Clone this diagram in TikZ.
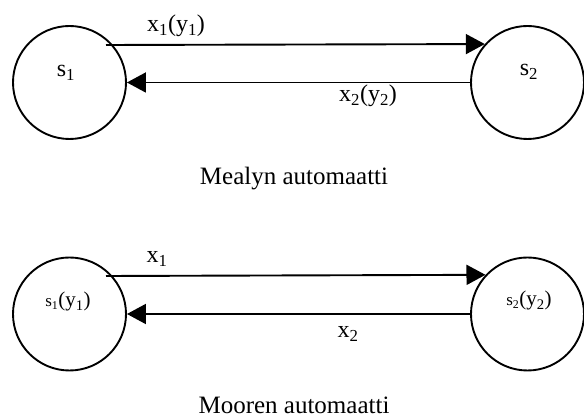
\documentclass[tikz,border=0pt]{standalone}
\usepackage{fontspec}
\setmainfont{Liberation Serif}
\usetikzlibrary{arrows.meta,calc}
\begin{document}
\begin{tikzpicture}[x=1pt,y=-1pt,
  state/.style={circle,draw,line width=1.9pt,minimum size=113pt,inner sep=0pt},
  conn/.style={line width=1.9pt,-{Triangle[length=19pt,width=20pt]}},
  lbl/.style={anchor=base,inner sep=0pt,font=\fontsize{24}{24}\selectfont},
  inlbl/.style={anchor=base,inner sep=0pt,font=\fontsize{21}{21}\selectfont},
  captxt/.style={anchor=base,inner sep=0pt,font=\fontsize{25}{25}\selectfont}]
\useasboundingbox (0,0) rectangle (584,419);
% Mealy
\node[state] (s1) at (69.5,82.5) {};
\node[state] (s2) at (527.5,82.5) {};
\node[lbl] (t1) at (66,77) {s\textsubscript{1}};
\node[lbl] (t2) at (529,76) {s\textsubscript{2}};
\coordinate (a1) at ($(s1.center)+(36.5,-37.5)$);
\draw[conn] (a1) -- (s2.138.4);
\draw[conn] (s2.west) -- (s1.east);
\node[lbl] (l1) at (176,32) {x\textsubscript{1}(y\textsubscript{1})};
\node[lbl] (l2) at (368,102) {x\textsubscript{2}(y\textsubscript{2})};
\node[captxt] (c1) at (294,185) {Mealyn automaatti};
% Moore
\node[state] (m1) at (69.5,314) {};
\node[state] (m2) at (527.5,314) {};
\node[inlbl] (u1) at (68,307) {{\fontsize{17}{17}\selectfont s\textsubscript{1}}(y\textsubscript{1})};
\node[inlbl] (u2) at (529,306) {{\fontsize{17}{17}\selectfont s\textsubscript{2}}(y\textsubscript{2})};
\coordinate (b1) at ($(m1.center)+(36.5,-38)$);
\draw[conn] (b1) -- (m2.137.7);
\draw[conn] (m2.west) -- (m1.east);
\node[lbl] (l3) at (157,263) {x\textsubscript{1}};
\node[lbl] (l4) at (348,338) {x\textsubscript{2}};
\node[captxt] (c2) at (294,414) {Mooren automaatti};
\end{tikzpicture}
\end{document}
